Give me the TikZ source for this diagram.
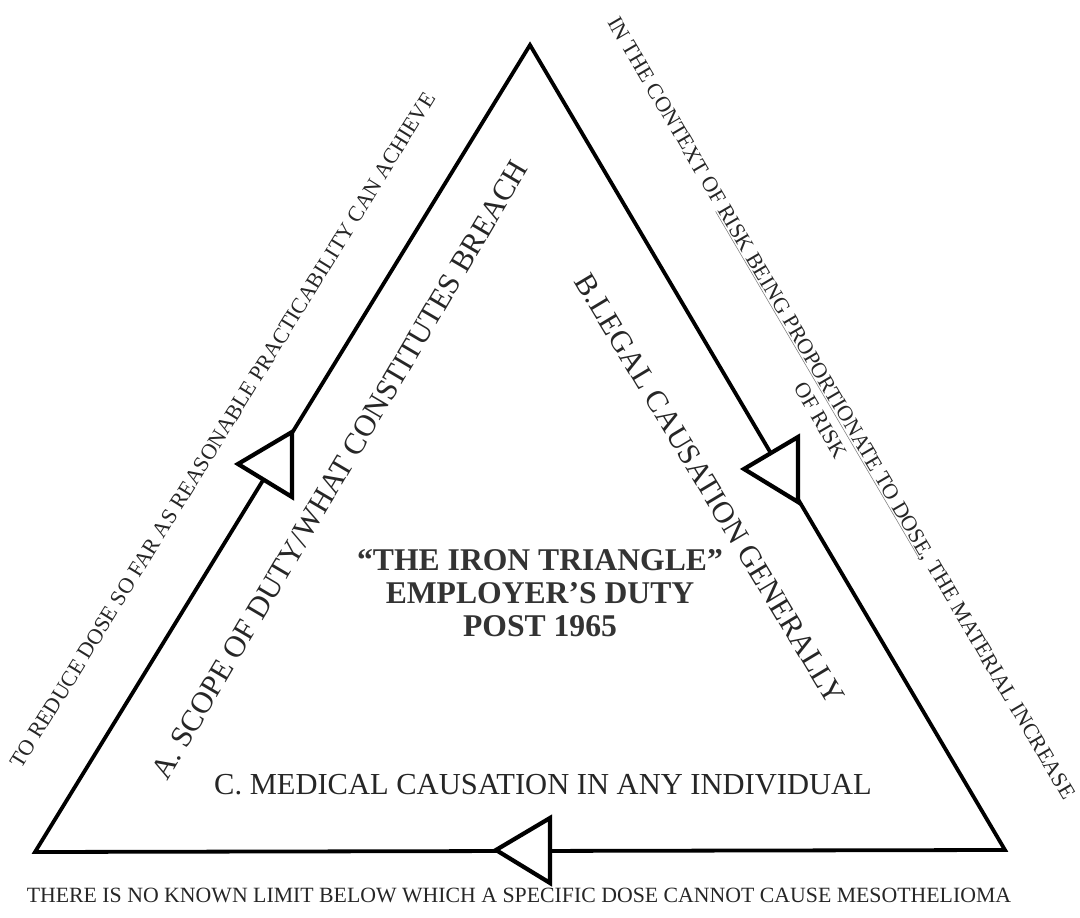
\documentclass[tikz,border=0pt]{standalone}
\usepackage{fontspec}
\setmainfont{Liberation Serif}
\usepackage{tikz}
\usetikzlibrary{calc,positioning,shadows}
%graue Unterstreichung, Text bleibt dunkel
\newcommand{\grauunter}[1]{\textcolor{gray}{\underline{\textcolor{black!85}{#1}}}}

\begin{document}
\begin{tikzpicture}[x=0.025cm,y=-0.025cm,
  kante/.style={line width=2.7pt},
  pfeil/.style={line width=3pt,fill=white,drop shadow={opacity=0.15,shadow xshift=1.5pt,shadow yshift=-1.5pt}},
  gross/.style={font=\fontsize{21.7}{24}\selectfont,text=black!85,inner sep=0pt},
  klein/.style={font=\fontsize{15.6}{17.5}\selectfont,text=black!85,inner sep=0pt}]
\useasboundingbox (0,0) rectangle (1080,918);
%Eckpunkte des Dreiecks
\coordinate (oben) at (530,45);
\coordinate (links) at (35,852);
\coordinate (rechts) at (1005,850);
\draw[kante] (oben) -- (links) -- (rechts) -- cycle;
%offene Pfeilspitzen, alle gleich
\foreach \x/\y in {292/432,798/437,550/818}{
\draw[pfeil] (\x,\y) -- ++(0,65) -- ++(-54,-33) -- cycle;
}
\node[klein,rotate=58.3] (aussenA) at (223,430) {TO REDUCE DOSE SO FAR AS REASONABLE PRACTICABILITY CAN ACHIEVE};
\node[gross,rotate=59.5] (innenA) at (340,470) {A. SCOPE OF DUTY/WHAT CONSTITUTES BREACH};
\node[klein,rotate=-59.6,align=center] (aussenB) at (831,414) {IN THE CONTEXT OF \grauunter{RISK BEING PROPORTIONATE TO DOSE}, THE MATERIAL INCREASE\\OF RISK};
\node[gross,rotate=-59] (innenB) at (710,489) {B.LEGAL CAUSATION GENERALLY};
\node[gross] (innenC) at (543,785) {C. MEDICAL CAUSATION IN ANY INDIVIDUAL};
\node[klein,font=\fontsize{15.5}{17}\selectfont] (aussenC) at (519,895) {THERE IS NO KNOWN LIMIT BELOW WHICH A SPECIFIC DOSE CANNOT CAUSE MESOTHELIOMA};
\node[align=center,font=\bfseries\fontsize{22.5}{23.5}\selectfont,text=black!80] (titel) at (540,593) {``THE IRON TRIANGLE''\\EMPLOYER'S DUTY\\POST 1965};
\end{tikzpicture}
\end{document}
